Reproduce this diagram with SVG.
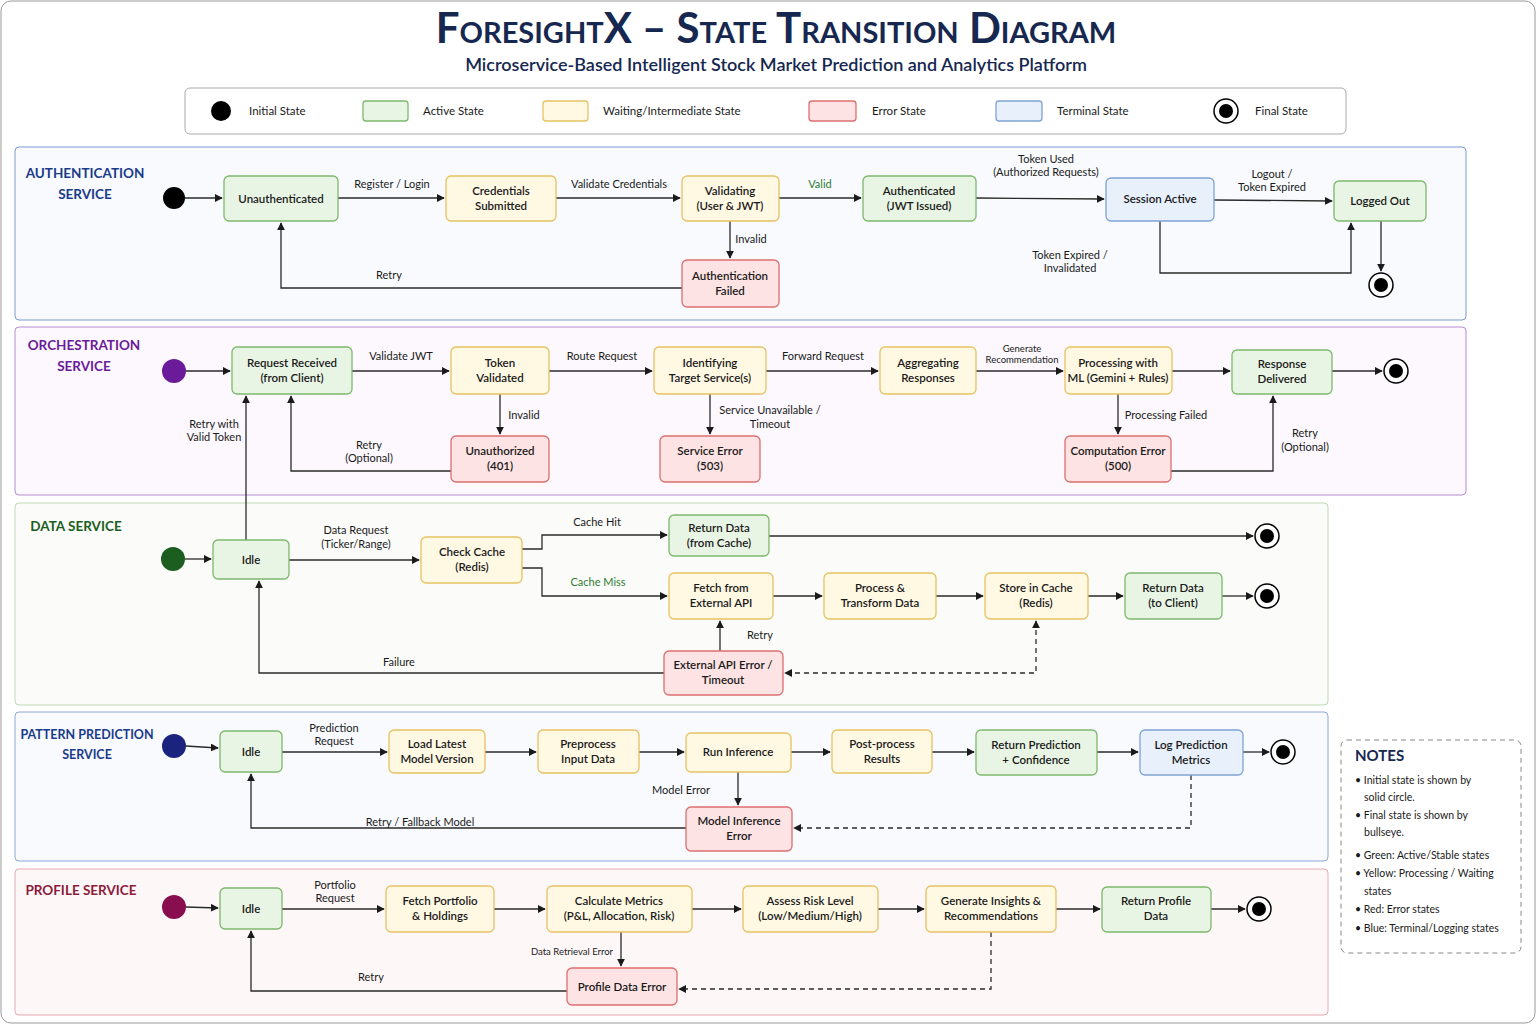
<svg xmlns="http://www.w3.org/2000/svg" width="1536" height="1024" viewBox="0 0 1536 1024">
<style>
text{font-family:Lato,"Open Sans","Liberation Sans",sans-serif;fill:#1a1a1a}
.n text{font-size:11.5px;font-weight:600;text-anchor:middle}
.g{fill:#e9f5e4;stroke:#7db86c;stroke-width:1.3}
.y{fill:#fff8e3;stroke:#e6c263;stroke-width:1.3}
.r{fill:#fde3e3;stroke:#dc6f6f;stroke-width:1.3}
.b{fill:#e8f0fb;stroke:#7fa3d4;stroke-width:1.3}
.e{fill:none;stroke:#2a2a2a;stroke-width:1.3;marker-end:url(#a)}
.d{stroke-dasharray:5 4}
.l{font-size:11px;text-anchor:middle}
.sec{font-size:13.5px;font-weight:700;text-anchor:middle}
.nt{font-size:10.5px}
</style>
<defs>
<marker id="a" viewBox="0 0 10 10" refX="9" refY="5" markerWidth="8" markerHeight="8" orient="auto-start-reverse" markerUnits="userSpaceOnUse"><path d="M0,0L10,5L0,10z" fill="#1a1a1a"/></marker>
</defs>
<rect x="1" y="1" width="1534" height="1022" rx="10" fill="#fff" stroke="#999"/>
<text x="776" y="43" font-size="42" font-weight="700" text-anchor="middle" style="fill:#16284f;font-variant:small-caps;font-family:Lato,'Liberation Sans',sans-serif">ForesightX – State Transition Diagram</text>
<text x="776" y="71" font-size="18" font-weight="600" text-anchor="middle" style="fill:#16284f">Microservice-Based Intelligent Stock Market Prediction and Analytics Platform</text>
<g id="legend">
<rect x="185" y="88" width="1161" height="46" rx="5" fill="#fff" stroke="#aaa"/>
<circle cx="221" cy="111" r="10" fill="#000"/><text x="249" y="115" font-size="11.5">Initial State</text>
<rect x="363" y="101" width="45" height="20" rx="3" class="g"/><text x="423" y="115" font-size="11.5">Active State</text>
<rect x="543" y="101" width="45" height="20" rx="3" class="y"/><text x="603" y="115" font-size="11.5">Waiting/Intermediate State</text>
<rect x="809" y="101" width="47" height="20" rx="3" class="r"/><text x="872" y="115" font-size="11.5">Error State</text>
<rect x="996" y="101" width="46" height="20" rx="3" class="b"/><text x="1057" y="115" font-size="11.5">Terminal State</text>
<circle cx="1226" cy="111" r="12" fill="#fff" stroke="#000" stroke-width="1.5"/><circle cx="1226" cy="111" r="7" fill="#000"/><text x="1255" y="115" font-size="11.5">Final State</text>
</g>
<g id="panels">
<rect x="15" y="147" width="1451" height="173" rx="4" fill="#f8fafe" stroke="#7a9ad0"/>
<rect x="15" y="327" width="1451" height="168" rx="4" fill="#fcf8fd" stroke="#b68cd2"/>
<rect x="15" y="503" width="1313" height="202" rx="4" fill="#fbfcf9" stroke="#bcd9b3"/>
<rect x="15" y="712" width="1313" height="149" rx="4" fill="#f8fafe" stroke="#8aa8d8"/>
<rect x="15" y="869" width="1313" height="146" rx="4" fill="#fef7f8" stroke="#e8a8b0"/>
<text x="85" y="178" class="sec" style="fill:#1a3a8a">AUTHENTICATION</text><text x="85" y="199" class="sec" style="fill:#1a3a8a">SERVICE</text>
<text x="84" y="350" class="sec" style="fill:#6a1b9a">ORCHESTRATION</text><text x="84" y="371" class="sec" style="fill:#6a1b9a">SERVICE</text>
<text x="76" y="531" class="sec" style="fill:#1b5e20">DATA SERVICE</text>
<text x="87" y="739" class="sec" style="fill:#1a3a8a;font-size:12.5px">PATTERN PREDICTION</text><text x="87" y="759" class="sec" style="fill:#1a3a8a;font-size:12.5px">SERVICE</text>
<text x="81" y="895" class="sec" style="fill:#8e1a3a">PROFILE SERVICE</text>
</g>
<g id="connectors">
<path class="e" d="M185,198H222"/>
<path class="e" d="M338,198H444"/>
<path class="e" d="M556,198H680"/>
<path class="e" d="M779,198H861"/>
<path class="e" d="M976,198L1104,199"/>
<path class="e" d="M1214,200L1332,201"/>
<path class="e" d="M1160,221V273H1351V223"/>
<path class="e" d="M1381,221V271"/>
<path class="e" d="M730,221V258"/>
<path class="e" d="M682,288H281V223"/>
<path class="e" d="M186,371H230"/>
<path class="e" d="M352,371H449"/>
<path class="e" d="M549,371H652"/>
<path class="e" d="M766,371H878"/>
<path class="e" d="M976,371H1063"/>
<path class="e" d="M1172,371H1230"/>
<path class="e" d="M1332,371H1382"/>
<path class="e" d="M500,394V434"/>
<path class="e" d="M710,394V434"/>
<path class="e" d="M1118,394V434"/>
<path class="e" d="M1171,471H1273V396"/>
<path class="e" d="M451,471H291V396"/>
<path class="e" d="M246,540V396"/>
<path class="e" d="M185,559H211"/>
<path class="e" d="M289,560H419"/>
<path class="e" d="M522,549H542V535H667"/>
<path class="e" d="M522,568H542V596H667"/>
<path class="e" d="M769,536H1253"/>
<path class="e" d="M773,596H822"/>
<path class="e" d="M936,596H983"/>
<path class="e" d="M1088,596H1123"/>
<path class="e" d="M1222,596H1253"/>
<path class="e" d="M720,651V621"/>
<path class="e" d="M664,673H259V581"/>
<path class="e d" style="marker-start:url(#a)" d="M1036,621V673H785"/>
<path class="e" d="M186,746L218,748"/>
<path class="e" d="M282,752H387"/>
<path class="e" d="M485,752H536"/>
<path class="e" d="M639,752H684"/>
<path class="e" d="M791,752H830"/>
<path class="e" d="M932,752H974"/>
<path class="e" d="M1097,752H1138"/>
<path class="e" d="M1243,752H1269"/>
<path class="e" d="M738,772V805"/>
<path class="e" d="M686,828H251V774"/>
<path class="e d" d="M1191,775V828H794"/>
<path class="e" d="M186,907L218,908"/>
<path class="e" d="M282,909H384"/>
<path class="e" d="M494,909H545"/>
<path class="e" d="M692,909H741"/>
<path class="e" d="M878,909H924"/>
<path class="e" d="M1056,909H1100"/>
<path class="e" d="M1211,909H1245"/>
<path class="e" d="M621,932V966"/>
<path class="e" d="M567,991H251V931"/>
<path class="e d" d="M991,932V989H679"/>
</g>
<g id="labels">
<text class="l" x="392" y="188">Register / Login</text>
<text class="l" x="619" y="188">Validate Credentials</text>
<text class="l" x="820" y="188" style="fill:#2e7d32">Valid</text>
<text class="l" x="1046" y="163">Token Used</text><text class="l" x="1046" y="176">(Authorized Requests)</text>
<text class="l" x="1272" y="178">Logout /</text><text class="l" x="1272" y="191">Token Expired</text>
<text class="l" x="1070" y="259">Token Expired /</text><text class="l" x="1070" y="272">Invalidated</text>
<text class="l" x="751" y="243">Invalid</text>
<text class="l" x="389" y="279">Retry</text>
<text class="l" x="401" y="360">Validate JWT</text>
<text class="l" x="602" y="360">Route Request</text>
<text class="l" x="823" y="360">Forward Request</text>
<text class="l" x="1022" y="352" style="font-size:9.5px">Generate</text><text class="l" x="1022" y="363" style="font-size:9.5px">Recommendation</text>
<text class="l" x="524" y="419">Invalid</text>
<text class="l" x="770" y="414">Service Unavailable /</text><text class="l" x="770" y="428">Timeout</text>
<text class="l" x="1166" y="419">Processing Failed</text>
<text class="l" x="1305" y="437">Retry</text><text class="l" x="1305" y="451">(Optional)</text>
<text class="l" x="369" y="449">Retry</text><text class="l" x="369" y="462">(Optional)</text>
<text class="l" x="214" y="428">Retry with</text><text class="l" x="214" y="441">Valid Token</text>
<text class="l" x="356" y="534">Data Request</text><text class="l" x="356" y="548">(Ticker/Range)</text>
<text class="l" x="597" y="526">Cache Hit</text>
<text class="l" x="598" y="586" style="fill:#2e7d32">Cache Miss</text>
<text class="l" x="760" y="639">Retry</text>
<text class="l" x="399" y="666">Failure</text>
<text class="l" x="334" y="732">Prediction</text><text class="l" x="334" y="745">Request</text>
<text class="l" x="681" y="794">Model Error</text>
<text class="l" x="420" y="826">Retry / Fallback Model</text>
<text class="l" x="335" y="889">Portfolio</text><text class="l" x="335" y="902">Request</text>
<text class="l" x="572" y="955" style="font-size:9.5px">Data Retrieval Error</text>
<text class="l" x="371" y="981">Retry</text>
</g>
<g id="a_init"><circle cx="174" cy="198" r="11" fill="#000"/></g>
<g id="a_unauth" class="n"><rect x="224" y="176" width="114" height="45" rx="5" class="g"/><text x="281" y="203">Unauthenticated</text></g>
<g id="a_cred" class="n"><rect x="446" y="176" width="110" height="45" rx="5" class="y"/><text x="501" y="195">Credentials</text><text x="501" y="210">Submitted</text></g>
<g id="a_valid" class="n"><rect x="682" y="176" width="97" height="45" rx="5" class="y"/><text x="730" y="195">Validating</text><text x="730" y="210">(User &amp; JWT)</text></g>
<g id="a_auth" class="n"><rect x="863" y="176" width="113" height="45" rx="5" class="g"/><text x="919" y="195">Authenticated</text><text x="919" y="210">(JWT Issued)</text></g>
<g id="a_sess" class="n"><rect x="1106" y="178" width="108" height="43" rx="5" class="b"/><text x="1160" y="203">Session Active</text></g>
<g id="a_out" class="n"><rect x="1334" y="181" width="92" height="40" rx="5" class="g"/><text x="1380" y="205">Logged Out</text></g>
<g id="a_fail" class="n"><rect x="682" y="260" width="97" height="47" rx="5" class="r"/><text x="730" y="280">Authentication</text><text x="730" y="295">Failed</text></g>
<g id="a_final"><circle cx="1381" cy="285" r="12" fill="#fff" stroke="#000" stroke-width="1.5"/><circle cx="1381" cy="285" r="7" fill="#000"/></g>
<g id="o_init"><circle cx="174" cy="371" r="12" fill="#6a1b9a"/></g>
<g id="o_req" class="n"><rect x="232" y="347" width="120" height="47" rx="5" class="g"/><text x="292" y="367">Request Received</text><text x="292" y="382">(from Client)</text></g>
<g id="o_tok" class="n"><rect x="451" y="347" width="98" height="47" rx="5" class="y"/><text x="500" y="367">Token</text><text x="500" y="382">Validated</text></g>
<g id="o_id" class="n"><rect x="654" y="347" width="112" height="47" rx="5" class="y"/><text x="710" y="367">Identifying</text><text x="710" y="382">Target Service(s)</text></g>
<g id="o_agg" class="n"><rect x="880" y="347" width="96" height="47" rx="5" class="y"/><text x="928" y="367">Aggregating</text><text x="928" y="382">Responses</text></g>
<g id="o_ml" class="n"><rect x="1065" y="347" width="107" height="47" rx="5" class="y"/><text x="1118" y="367">Processing with</text><text x="1118" y="382">ML (Gemini + Rules)</text></g>
<g id="o_resp" class="n"><rect x="1232" y="350" width="100" height="44" rx="5" class="g"/><text x="1282" y="368">Response</text><text x="1282" y="383">Delivered</text></g>
<g id="o_final"><circle cx="1396" cy="371" r="12" fill="#fff" stroke="#000" stroke-width="1.5"/><circle cx="1396" cy="371" r="7" fill="#000"/></g>
<g id="o_401" class="n"><rect x="451" y="436" width="98" height="46" rx="5" class="r"/><text x="500" y="455">Unauthorized</text><text x="500" y="470">(401)</text></g>
<g id="o_503" class="n"><rect x="660" y="436" width="100" height="46" rx="5" class="r"/><text x="710" y="455">Service Error</text><text x="710" y="470">(503)</text></g>
<g id="o_500" class="n"><rect x="1065" y="436" width="106" height="46" rx="5" class="r"/><text x="1118" y="455">Computation Error</text><text x="1118" y="470">(500)</text></g>
<g id="d_init"><circle cx="173" cy="559" r="12" fill="#1b5e20"/></g>
<g id="d_idle" class="n"><rect x="213" y="540" width="76" height="39" rx="5" class="g"/><text x="251" y="564">Idle</text></g>
<g id="d_check" class="n"><rect x="421" y="537" width="101" height="46" rx="5" class="y"/><text x="472" y="556">Check Cache</text><text x="472" y="571">(Redis)</text></g>
<g id="d_rc" class="n"><rect x="669" y="515" width="100" height="41" rx="5" class="g"/><text x="719" y="532">Return Data</text><text x="719" y="547">(from Cache)</text></g>
<g id="d_fetch" class="n"><rect x="669" y="573" width="104" height="46" rx="5" class="y"/><text x="721" y="592">Fetch from</text><text x="721" y="607">External API</text></g>
<g id="d_proc" class="n"><rect x="824" y="573" width="112" height="46" rx="5" class="y"/><text x="880" y="592">Process &amp;</text><text x="880" y="607">Transform Data</text></g>
<g id="d_store" class="n"><rect x="985" y="573" width="103" height="46" rx="5" class="y"/><text x="1036" y="592">Store in Cache</text><text x="1036" y="607">(Redis)</text></g>
<g id="d_ret" class="n"><rect x="1125" y="573" width="97" height="46" rx="5" class="g"/><text x="1173" y="592">Return Data</text><text x="1173" y="607">(to Client)</text></g>
<g id="d_err" class="n"><rect x="664" y="651" width="119" height="44" rx="5" class="r"/><text x="723" y="669">External API Error /</text><text x="723" y="684">Timeout</text></g>
<g id="d_f1"><circle cx="1267" cy="536" r="12" fill="#fff" stroke="#000" stroke-width="1.5"/><circle cx="1267" cy="536" r="7" fill="#000"/></g>
<g id="d_f2"><circle cx="1267" cy="596" r="12" fill="#fff" stroke="#000" stroke-width="1.5"/><circle cx="1267" cy="596" r="7" fill="#000"/></g>
<g id="p_init"><circle cx="174" cy="746" r="12" fill="#1a237e"/></g>
<g id="p_idle" class="n"><rect x="220" y="731" width="62" height="41" rx="5" class="g"/><text x="251" y="756">Idle</text></g>
<g id="p_load" class="n"><rect x="389" y="730" width="96" height="43" rx="5" class="y"/><text x="437" y="748">Load Latest</text><text x="437" y="763">Model Version</text></g>
<g id="p_pre" class="n"><rect x="538" y="730" width="101" height="43" rx="5" class="y"/><text x="588" y="748">Preprocess</text><text x="588" y="763">Input Data</text></g>
<g id="p_run" class="n"><rect x="686" y="733" width="105" height="39" rx="5" class="y"/><text x="738" y="756">Run Inference</text></g>
<g id="p_post" class="n"><rect x="832" y="730" width="100" height="43" rx="5" class="y"/><text x="882" y="748">Post-process</text><text x="882" y="763">Results</text></g>
<g id="p_ret" class="n"><rect x="976" y="730" width="121" height="45" rx="5" class="g"/><text x="1036" y="749">Return Prediction</text><text x="1036" y="764">+ Confidence</text></g>
<g id="p_log" class="n"><rect x="1140" y="730" width="103" height="45" rx="5" class="b"/><text x="1191" y="749">Log Prediction</text><text x="1191" y="764">Metrics</text></g>
<g id="p_final"><circle cx="1283" cy="752" r="12" fill="#fff" stroke="#000" stroke-width="1.5"/><circle cx="1283" cy="752" r="7" fill="#000"/></g>
<g id="p_err" class="n"><rect x="686" y="807" width="106" height="44" rx="5" class="r"/><text x="739" y="825">Model Inference</text><text x="739" y="840">Error</text></g>
<g id="f_init"><circle cx="174" cy="907" r="12" fill="#880e4f"/></g>
<g id="f_idle" class="n"><rect x="220" y="888" width="62" height="41" rx="5" class="g"/><text x="251" y="913">Idle</text></g>
<g id="f_fetch" class="n"><rect x="386" y="886" width="108" height="46" rx="5" class="y"/><text x="440" y="905">Fetch Portfolio</text><text x="440" y="920">&amp; Holdings</text></g>
<g id="f_calc" class="n"><rect x="547" y="886" width="145" height="46" rx="5" class="y"/><text x="619" y="905">Calculate Metrics</text><text x="619" y="920">(P&amp;L, Allocation, Risk)</text></g>
<g id="f_risk" class="n"><rect x="743" y="886" width="135" height="46" rx="5" class="y"/><text x="810" y="905">Assess Risk Level</text><text x="810" y="920">(Low/Medium/High)</text></g>
<g id="f_gen" class="n"><rect x="926" y="886" width="130" height="46" rx="5" class="y"/><text x="991" y="905">Generate Insights &amp;</text><text x="991" y="920">Recommendations</text></g>
<g id="f_ret" class="n"><rect x="1102" y="887" width="109" height="45" rx="5" class="g"/><text x="1156" y="905">Return Profile</text><text x="1156" y="920">Data</text></g>
<g id="f_final"><circle cx="1259" cy="909" r="12" fill="#fff" stroke="#000" stroke-width="1.5"/><circle cx="1259" cy="909" r="7" fill="#000"/></g>
<g id="f_err" class="n"><rect x="567" y="968" width="110" height="37" rx="5" class="r"/><text x="622" y="991">Profile Data Error</text></g>
<g id="notes">
<rect x="1341" y="740" width="180" height="213" rx="6" fill="#fff" stroke="#888" stroke-dasharray="5 4"/>
<text x="1355" y="761" font-size="15" font-weight="700" style="fill:#16284f">NOTES</text>
<text class="nt" x="1355" y="784">• Initial state is shown by</text><text class="nt" x="1364" y="801">solid circle.</text>
<text class="nt" x="1355" y="819">• Final state is shown by</text><text class="nt" x="1364" y="836">bullseye.</text>
<text class="nt" x="1355" y="859">• Green: Active/Stable states</text>
<text class="nt" x="1355" y="877">• Yellow: Processing / Waiting</text><text class="nt" x="1364" y="895">states</text>
<text class="nt" x="1355" y="913">• Red: Error states</text>
<text class="nt" x="1355" y="932">• Blue: Terminal/Logging states</text>
</g>
</svg>
